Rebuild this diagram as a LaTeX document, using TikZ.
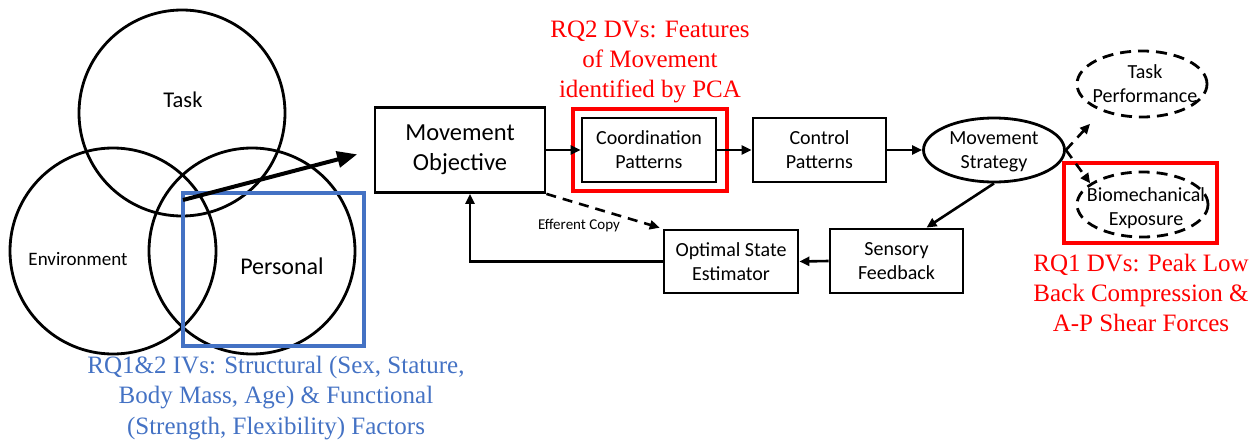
\documentclass[tikz,border=0pt]{standalone}
\usepackage{fontspec}
\setmainfont{Carlito}
\newfontfamily\notefont{Liberation Serif}
\usetikzlibrary{arrows.meta,shapes.geometric,calc}
\definecolor{ivblue}{HTML}{4472C4}
\definecolor{dvred}{HTML}{FF0000}

\begin{document}
\begin{tikzpicture}[x=1pt,y=-1pt,
  txt/.style={font=\fontsize{20}{24}\selectfont, align=center, inner sep=0pt},
  stepbox/.style={draw, line width=2.8pt, minimum width=134pt, minimum height=64pt,
    inner sep=0pt, align=center, font=\fontsize{20}{24}\selectfont},
  venn/.style={draw, circle, line width=2.8pt, minimum size=206pt, inner sep=0pt},
  ovalnode/.style={draw, ellipse, line width=2.8pt, minimum width=141pt, minimum height=64pt, inner sep=0pt},
  dashoval/.style={draw, ellipse, line width=2.8pt, dash pattern=on 11pt off 7pt,
    minimum width=131pt, minimum height=65pt, inner sep=0pt},
  ivbox/.style={draw=ivblue, line width=3.5pt, minimum width=181pt, minimum height=153pt, inner sep=0pt},
  dvbox/.style={draw=dvred, line width=4pt, minimum width=154pt, minimum height=82pt, inner sep=0pt},
  flow/.style={line width=2.6pt, -{Triangle[length=10pt,width=9pt]}},
  dashflow/.style={flow, dash pattern=on 10pt off 7pt},
  bigflow/.style={line width=4pt, -{Triangle[length=20pt,width=16pt]}},
  ivnote/.style={text=ivblue, font=\notefont\fontsize{25}{30.5}\selectfont, align=center, inner sep=0pt},
  dvnote/.style={text=dvred, font=\notefont\fontsize{25}{30}\selectfont, align=center, inner sep=0pt}
]
\useasboundingbox (0,0) rectangle (1258,442);

% three overlapping factor circles
\node[venn] (taskc) at (182,113) {};
\node[venn] (envc)  at (113,251) {};
\node[venn] (persc) at (252,251) {};
\node[font=\fontsize{22.5}{27}\selectfont, inner sep=0pt] (taskt) at (183,100) {Task};
\node[font=\fontsize{19}{23}\selectfont, inner sep=0pt] (envt) at (78,259) {Environment};
\node[font=\fontsize{24}{29}\selectfont, inner sep=0pt] (perst) at (282,266) {Personal};

% personal-factor highlight and its note
\node[ivbox] (ivb) at (273.5,269.5) {};
\node[ivnote] (ivn) at (276,398) {RQ1\&2 IVs: Structural (Sex, Stature,\\Body Mass, Age) \& Functional\\(Strength, Flexibility) Factors};

% motor control chain
\node[stepbox, minimum width=170pt, minimum height=85pt, font=\fontsize{24.5}{30}\selectfont] (mo) at (460,150) {Movement\\Objective};
\node[stepbox] (coord) at (649,150) {Coordination\\Patterns};
\node[stepbox, minimum width=133pt] (ctrl) at (819.5,150) {Control\\Patterns};
\node[ovalnode] (strat) at (994,150) {};
\node[txt] (stratt) at (994,152) {Movement\\Strategy};
\node[stepbox, minimum width=133pt] (sens) at (896.5,261) {Sensory\\Feedback};
\node[stepbox, minimum height=63pt] (opt) at (731,261.5) {Optimal State\\Estimator};

% outcomes
\node[dashoval, minimum width=130pt, minimum height=66pt] (perf) at (1142,84) {};
\node[txt] (perft) at (1145,84) {Task\\Performance};
\node[dashoval] (bio) at (1142.5,204.5) {};
\node[txt] (biot) at (1146,208) {Biomechanical\\Exposure};

% dependent-variable highlights and notes
\node[dvbox] (dv2) at (650,150) {};
\node[dvnote] (dv2n) at (650,62) {RQ2 DVs: Features\\of Movement\\identified by PCA};
\node[dvbox, minimum width=153pt, minimum height=80pt] (dv1) at (1140.5,203) {};
\node[dvnote] (dv1n) at (1141,293) {RQ1 DVs: Peak Low\\Back Compression \&\\A-P Shear Forces};

% connectors
\coordinate (vennout) at (183,200);
\draw[bigflow, shorten >=17pt] (vennout) -- (mo.west);
\draw[flow] (mo.east) -- (coord.west);
\draw[flow] (coord.east) -- (ctrl.west);
\draw[flow] (ctrl.east) -- (strat.west);
\draw[flow] (strat.south) -- ([xshift=30pt]sens.north);
\draw[flow] (sens.west) -- (opt.east);
\draw[flow] (opt.west) -| ([xshift=10pt]mo.south);
\draw[dashflow, shorten >=3pt] (mo.south east) -- node[pos=0.28, below=14pt, font=\fontsize{15}{18}\selectfont, inner sep=0pt] (eff) {Efferent Copy} (opt.north west);
\draw[dashflow, shorten >=17pt] (strat.east) -- (perf.214);
\draw[dashflow] (strat.east) -- (bio.158);
\end{tikzpicture}
\end{document}
